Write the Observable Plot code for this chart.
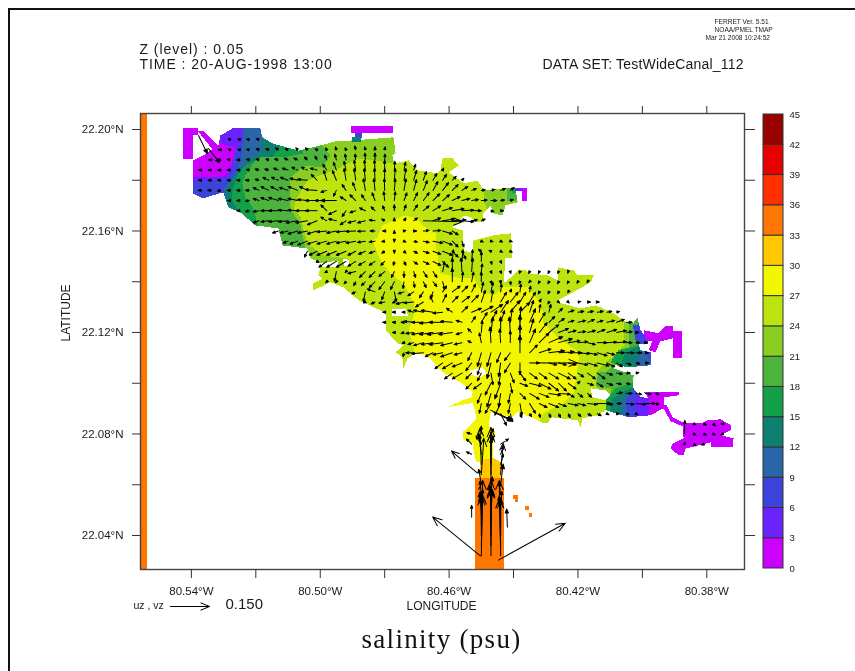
<!DOCTYPE html>
<html><head><meta charset="utf-8">
<style>
html,body{margin:0;padding:0;background:#fff;width:855px;height:671px;overflow:hidden}
#wrap{position:relative;width:855px;height:671px}
#edge{position:absolute;left:8px;top:8px;right:0;bottom:0;border-left:2px solid #111;border-top:2px solid #111}
#wrap svg{position:absolute;left:0;top:0;background:transparent;filter:blur(.4px)}
.hdr text{letter-spacing:.95px}
.hds text{letter-spacing:.2px}
.ttl text{letter-spacing:1.3px}
</style>
<script src="https://cdn.jsdelivr.net/npm/d3@7"></script>
<script src="https://cdn.jsdelivr.net/npm/@observablehq/plot@0.6"></script>
</head><body><div id="wrap"><div id="edge"></div></div>
<script>
// All positions are thousandths of a degree: [west of 80 deg, north of 22 deg]
const salinityBins = d3.range(0,45,3);
const binColors = ["#cc00ff","#6a22ff","#3c44dc","#2866a8","#0e8070","#14a048","#4cb43c","#8acf1f","#bde40f","#f2f600","#ffc800","#ff7700","#ff3000","#e60000","#990000"];
const lonDomain=[555.8,368.3], latDomain=[26.6,206.3];
const lonTicks=[540,520,500,480,460,440,420,400,380];
const latTicks=[200,180,160,140,120,100,80,60,40];
const lonLabelled=[540,500,460,420,380], latLabelled=[200,160,120,80,40];

const outline=[[539.4,187.8],[536.3,189.8],[533.2,192.5],[531.6,193.7],[531,197.6],[527.3,200.4],[518.6,200.4],[518,196.9],[514.8,194.5],[506.8,191.7],[499.9,193.7],[495.3,195.3],[489.7,195.7],[477.3,196.9],[476.6,190.6],[477.6,189.8],[477,186.6],[472.6,187.8],[469.8,183.9],[463.6,182.7],[462.7,183.9],[462,188.6],[458.9,188.6],[457,185.8],[460.2,183.1],[456.5,179.9],[455.5,178.7],[451.2,179.9],[449.3,176],[443.1,176.8],[439.4,176.8],[438.7,171.3],[442.5,170.1],[443.4,166.1],[446.2,166.9],[447.1,170.1],[449.3,167.3],[449.6,163.4],[451.8,163.4],[453.3,165.4],[455.5,166.1],[458.9,161.4],[455.8,160.2],[455.5,152.4],[452.7,151.2],[452.4,156.3],[446.2,158.3],[440.9,159.1],[440.3,149.6],[442.5,149.2],[443.1,139.4],[440.9,141.7],[438.4,144.5],[436.3,144.5],[435.3,143.3],[429.4,142.5],[426.3,140.6],[426.3,145.7],[421.3,144.5],[420.1,142.5],[415.1,142.5],[416,139.8],[419.2,137.4],[426.3,132.7],[426.3,131.9],[419.2,129.5],[414.5,130.7],[408.9,127.6],[405.2,124],[403,123.6],[401.5,125.6],[400.6,120.9],[398.4,117.7],[398.4,115.3],[401.2,115.3],[400.6,113],[397.4,112.2],[397.4,107.1],[404.3,106.3],[408.3,107.1],[408.9,105.9],[402.7,103.1],[403,98.4],[400.6,94.5],[397.4,94.1],[393.4,96.1],[393.4,90.2],[397.4,87.4],[404.3,86.6],[411.4,89.4],[413.6,87.4],[418.6,86.2],[419.2,82.7],[420.1,85.4],[428.5,86.6],[429.1,84.6],[430.7,84.2],[433.8,86.2],[438.7,88.6],[440.3,86.6],[447.1,88.6],[451.2,86.6],[452.7,92.2],[460.5,90.6],[455.8,93.3],[453,94.5],[452.7,96.5],[456,100],[462,104.3],[466.7,111],[470.4,111.8],[472.9,109.8],[474.2,105.9],[474.5,110.2],[476.6,112.2],[474.2,115],[476,115.7],[479.7,120.9],[479.7,128],[481.3,128.7],[488.1,132.7],[492.8,137.8],[496.8,139.8],[502.1,136.6],[502.1,139.4],[499.3,141.3],[500.6,142.5],[499.9,145.7],[494.3,145.7],[494.7,148.4],[499.3,147.2],[503,149.2],[504,153.1],[511.7,154.3],[513,161],[520.1,162.2],[524.8,167.3],[528.5,169.3],[530.1,175.2],[533.5,174],[536.6,172.8],[539.4,174.8]];

const yellowZone=[[482.3,157.5],[480.7,162.2],[473.9,166.1],[470,165],[468.3,162.2],[464.2,159.1],[463.9,152.4],[462.7,143.3],[456.5,141.3],[452.4,141.7],[450.2,136.6],[446.2,134.6],[443.1,137.8],[435.7,137.8],[431.6,131.5],[430.7,123.6],[428.5,120.9],[426.3,118.1],[419.8,112.2],[419.8,108.3],[421.3,96.1],[424.5,92.1],[430.7,88.2],[433.2,81.5],[453.4,81.5],[465.8,93.3],[470.4,111],[472.6,120.9],[470.4,128.7],[471.4,132.7],[474.2,139.4],[478.2,143.3],[481.3,148.4],[483.8,156.3]];
const west21=[[475.1,203.5],[477.6,186.6],[482.9,187.8],[488.4,188.6],[493.7,185],[497.8,183],[504,179.9],[507.1,173.2],[508.3,169.3],[506.1,165.4],[504,155.1],[499.3,150.4],[492.2,149.2],[492.8,146.1],[499.9,146.9],[506.1,144.5],[552.7,144.5],[552.7,203.5]];
const west18=[[552.7,203.5],[499.9,203.5],[499.9,194.5],[496.8,189.8],[499.3,185],[504.6,185.8],[509.3,181.1],[509.3,169.3],[506.1,162.2],[504.6,153.1],[512.4,152.4],[552.7,152.4]];
const west15=[[552.7,203.5],[505.2,203.5],[505.2,190.6],[511.4,189],[518,189.8],[520.7,187],[523.2,181.9],[524.2,178.7],[523.2,173.2],[521,169.3],[519.1,161.8],[552.7,156.3]];
const west12=[[552.7,203.5],[514.8,203.5],[514.8,197.6],[512.4,193.7],[514.8,189],[518.6,189],[523.2,185.8],[525.7,181.9],[527.3,176],[527.3,172],[524.8,166.1],[552.7,160.2]];
const west9=[[552.7,203.5],[518,203.5],[518,191.7],[521.7,188.6],[524.8,183.9],[527,181.1],[529.4,176.8],[529.4,173.2],[528.5,166.1],[552.7,166.1]];
const west6=[[552.7,203.5],[523.9,203.5],[524.2,191.7],[525.4,185.8],[527,181.1],[529.8,176.8],[530.4,173.2],[552.7,168.1]];
const west3=[[552.7,203.5],[523.9,203.5],[524.2,195.7],[526.3,191.7],[527,187.8],[527.3,183.1],[528.5,181.1],[540.3,179.1],[552.7,178]];
const west0=[[552.7,203.5],[531.6,203.5],[531,194.5],[526.3,192.9],[527,187.8],[528.5,183.1],[530.4,181.1],[540.3,181.1],[552.7,181.1]];
const east21=[[406.1,132.7],[405.5,115],[411.1,108.3],[414.5,104.3],[414.5,98.8],[410.8,93.3],[413,83.5],[381.9,83.5],[381.9,132.7]];
const east18=[[404.3,128.7],[404.3,113.8],[408,108.3],[411.1,104.3],[413.6,104.3],[414.5,98.8],[409.9,98],[409.2,93.3],[411.1,85.4],[381.9,85.4],[381.9,128.7]];
const east15=[[400.6,123],[401.2,115],[407.4,113],[409.9,108.3],[400.6,104.3],[400.6,101.2],[408.3,98],[411.4,93.3],[411.4,85.4],[381.9,85.4],[381.9,123]];
const east12=[[399,120.9],[400.6,115],[405.2,112.2],[406.8,107.1],[397.4,105.9],[397.4,101.2],[405.2,97.2],[409.2,94.1],[410.5,85.4],[381.9,85.4],[381.9,120.9]];
const east9=[[397.4,122.8],[400.6,118.9],[400,113],[402.1,109.1],[401.8,105.9],[397.4,105.1],[397.4,101.2],[403,97.2],[406.1,94.1],[406.8,85.4],[381.9,85.4],[381.9,122.8]];
const east6=[[394.3,124.8],[403,122.8],[402.1,116.9],[399,112.2],[395.9,105.1],[395.9,101.2],[402.1,98],[405.2,93.3],[404.6,85.4],[381.9,85.4],[381.9,124.8]];
const east3=[[381.9,124.8],[397.4,124.8],[399,118.9],[394.3,115],[394.3,99.2],[400.6,96.5],[402.7,93.3],[401.8,85.4],[381.9,85.4]];
const east0=[[381.9,99.2],[398,99.2],[398,85.4],[381.9,85.4]];
const finger21=[[449.3,178],[449.3,172],[447.1,165],[439.4,165],[434.7,178]];
const finger18=[[441.9,178],[441.9,172],[436.3,172],[436.3,178]];
const finger15=[[440.6,178],[440.6,174.8],[436.3,174.8],[436.3,178]];
const holes=[[[492.9,149],[491.1,148.6],[491.1,146.3],[492.6,146.3]],[[477.6,129.1],[473.6,129.5],[472.6,126.4],[477.6,126.4]],[[453.4,105.1],[449.6,106.3],[448.4,103.9],[450.2,102.3],[453.4,103.5]],[[416.1,98],[411.4,97.2],[409.9,95.3],[411.4,93.3],[415.5,94.5]]];

// pieces lying outside the masked basin: [bin, polygon]
const outerPieces=[
 [0,[[542.6,200.4],[538.1,200.4],[538.1,198],[539.4,198],[539.4,188.2],[542.6,188.2]]],
 [0,[[538.1,199.6],[536.3,199.6],[530.4,191.7],[533.2,191.7]]],
 [0,[[490.6,201.2],[477.3,201.2],[477.3,198.8],[490.6,198.8]]],
 [2,[[489.1,198.8],[487,198.8],[487,196.5],[489.1,196.5]]],
 [4,[[490,196.9],[487.3,196.9],[487.3,195],[490,195]]],
 [0,[[437.5,177],[435.7,177],[435.7,172],[437.5,172]]],
 [1,[[439.4,177],[437.5,177],[437.5,175.8],[439.4,175.8]]],
 [0,[[390.6,120.5],[387.8,120.5],[387.8,109.9],[390.6,109.9]]],
 [0,[[399.6,120.9],[395,119.7],[392.8,122.4],[390.6,122.4],[390.6,117.7],[394.3,116.5],[399,116.9]]],
 [0,[[396.8,116.9],[394.3,116.9],[395.9,112.2],[398,113]]],
 [0,[[399.6,96.5],[388.7,96.5],[388.7,95.3],[392.8,94.5],[397.4,93.3]]],
 [0,[[394,91.3],[392.5,91.3],[390.6,86.6],[386.9,84.2],[386.9,82.7],[391.2,85]]],
 [0,[[387.5,84.2],[381.9,84.2],[379.7,85.4],[375.7,85.8],[372.6,83.5],[372.6,81.5],[375.7,79.5],[371.7,78.3],[372,74.8],[378.8,74.8],[378.8,76.7],[382.5,75.5],[386.6,74.3],[387.2,71.6],[388.7,71.6],[391.2,74.3],[390.6,76.3],[387.2,78.3]]],
 [9,[[452.4,91.3],[447.1,88.6],[447.7,83.5],[445.6,80.7],[446.5,75.6],[446.5,68.9],[451.5,68.9],[452.1,71.6],[452.7,76.4],[455.5,77.6],[455.8,80.7],[453.3,83.5],[451.5,86.2]]],
 [10,[[450.5,69.7],[446.2,70.5],[444,68.9],[444,62.6],[450.5,62.6]]],
 [11,[[452.1,62.6],[443.1,62.6],[443.1,26.6],[452.1,26.6]]],
 [11,[[555.8,206.3],[553.9,206.3],[553.9,26.6],[555.8,26.6]]],
 [11,[[440.3,55.9],[438.7,55.9],[438.7,53.1],[439.4,53.1],[439.4,54.3],[440.3,54.3]]],
 [11,[[436.3,51.6],[435.3,51.6],[435.3,50],[436.3,50]]],
 [11,[[435.3,48.8],[434.4,48.8],[434.4,47.2],[435.3,47.2]]]
];

// current rows: [lat, first lon, u,v pairs]; columns advance 3 east; 20 units = 0.150 on the key
const currentRows=[
[196,528,[-1,.5,-1,.3,-1.5,.2,-1.5,.5]],
[192,531,[-1,0,-1,.3,-1,.3,-1.5,.3,-1.5,.5,-1.5,.5,-1.5,1,-1.5,.5,-1,1,-1,1,-1,.5,-.5,1,-.5,1.5,-.5,1,-.5,2,-.3,1.5,0,1.5,.3,1.5]],
[188,534,[-1,0,-1.5,0,-1.5,.3,-1.5,0,-1.5,.3,-1.5,.5,-1.5,.5,-2,.5,-2,1,-2,1,-1.5,1.5,-1,2,-1,2.5,-.8,3,-.5,3,-.3,3,-.2,3.5,0,3.5,.2,3]],
[184,537,[-1.2,0,-1.2,0,-1.3,0,-1.5,0,-1.5,0,-1.5,.3,-2,.5,-2,.5,-2.5,1,-3,1,-3,1.5,-3,1.5,-3.5,1,-2,3,-1.5,4,-1,4.5,-.8,5,-.5,5,-.3,5,0,5,.3,4.5,.8,4,1,3]],
[184,462,[.5,1]],
[180,537,[-1.3,0,-1.3,0,-1.5,0,-1.5,0,-1.5,0,-2,0,-2,.5,-3,1.5,-3.5,1.5,-4,1.5,-4,1,-5,.5,-3,3,-1.5,5,-2,5,-1,6,-.8,6,-.6,6,-.3,6,0,6,.5,6,1,6,1.5,5,1.5,4.5,2,3.5,2,3,2,2,1,1]],
[176,537,[-1.5,0,-1.5,0,-1.5,-.3,-1.5,0,-1.5,0,-2,0,-3,1.5,-4,2,-4,2,-4.5,1.5,-5,2,-4,2,-6,.5,-3,-1,-1.5,-3,-2,3,-1.5,4,-1,6,-.6,6,-.2,6,.5,6,1,6,1.5,5.5,2,5,2.5,4.5,3,4,3,3,3,2,2.5,1,2,.3,2,.5,2.5,1,2,1.5]],
[172,528,[-1.2,0,-1.5,0,-2,-.3,-3,1,-4,1.5,-5,1.5,-5,1,-5,1,-5,.5,-6,0,-6,0,-8,0,-3,2,-3,3,-2,3,-1.5,4,-.5,4.5,.5,4.5,1.5,4,2,4,3,4,3.5,3.5,3.5,3,4,2,4,1,3.5,.5,3,.3,3,0,2,.3,1.5,.5]],
[168,525,[-1.5,0,-2,-.5,-3,-.5,-4,0,-5,0,-5,.3,-5,.3,-6,0,-6,0,-3,3,-4,-2,-2,-3,-3,-1,-3,1.5,-2,2,-1,2.5,0,3,1,3,2,3,3,2.5,4,2.5,5,1.5,6,1,6,.3,5,0]],
[168,447,[1.5,-.5,1.5,0]],
[164,519,[-3,-1,-4,-.5,-5,-.5,-5,-.5,-6,-1,-6,-1,-5,-2,-3,2,-4,1,-3,-2,-4,-1,-4,-1,-3,.5,-1.5,1,0,1.5,1,1.5,2,1.5,20,-.5,4,1.5,6,1,7,.5,6,-.5,3,.5,2,1]],
[160,513,[-3,-1,-4,-1,-5,-1.5,-5,-1,-5,-1.5,-5,-.5,-5,-1,-5,-.5,-5,-.3,-4,-.2,-2.5,0,-1,0,0,.3,1,.3,1.5,0,3,.3,4,.3,5,-1.5,3,-2]],
[156,510,[-2.5,-1,-4,-1.5,-5,-2,-5,-1.5,-5,-1.5,-5,-1.5,-5,-1,-5,-1,-4,-.7,-3,-.5,-1.5,-.3,0,-.5,1,-.5,2,-.5,3,-.7,5,-1,5,-2,3,-3,1,-3]],
[156,450,[1,-.5,1,-.3,1,-.5,1,-.3]],
[152,504,[-1.5,-3,-4,-2,-5,-2,-5,-2,-5,-2,-4,-2,-3.5,-1.5,-3,-1,-1.5,-1,0,-1,1,-1,2,-1,3,-1,4,-1.5,5,-2,3,-3,2,-4]],
[152,450,[-1.5,1,-1,.5,1,-.5,1,-.5]],
[148,501,[1,-.5,-4,-3,-5,-3,-5,-3,-4,-2.5,-3.5,-2,-3,-2,-2,-2,-.5,-2,1,-2,2,-1.5,3,-1.5,4,-2,3,-3,.5,6,.5,6,.5,6,0,5,.5,-1.5,.5,-1]],
[144,498,[-1,-.5,-1,-5,-.5,-.5,-4,-1,-3,-3,-3,-3,-3,-2.5,-1.5,-3,0,-3,1,-3,2,-3,2,-3,1,5,0,7,-.5,7,.5,7,.5,4,.5,-1,.5,-1,.3,-1,-.3,-1,-.5,-1,-.5,-1,-.5,-1,-.5,-1,-.3,-.8]],
[140,498,[-.5,-.5,-.5,-.5,-1,-1,-1,-2,-2,-2,-3,-3,-3,-4,-2,-4,-.5,-3.5,.5,-3,1.5,-3,2,-2.5,1,-4,0,7,.5,5,1,5,0,5,.5,-1,0,-1,.3,-1.5,-.5,-1,-.5,-.5,-.5,-1,-.5,-1,-.5,-1,-.5,-1,-.5,-.8,-.3,-.5]],
[136,489,[-2,-1,-1,-5,-4,1.5,-1.5,-4,1,-5,-3,-1,-3,-2,-2,-3,-1,-3,2,3,4,3,3,3,2,4,1,5,1,5,.5,4,.5,1.5,.5,4,.5,3,-.5,-1,-.5,-1,-.5,-1,-.3,-.5]],
[132,486,[-1,-.5,-2,-1,-3,-.5,-1,-.5,-4,-1,-5,-.5,-4,-2.5,-1.5,3,2,4,3,3,4,3,3.5,3.5,2,6,1,6,3,5,4,5,3,5,3,5,1,1.5,-.5,-1,.5,-.5,.5,-.5,1.5,.3,1.5,0,1,0]],
[128,480,[-1,0,-1,0,-1,0,-3,1,-5,1,-6,1,-5,-.5,-3,2,3,3,5,2,6,3,6,4,4,6,5,6,5,5,2,6,.5,4,1,4,2,2,3,1,3,.5,3,.5,3,.5,2.5,.5,1.5,.3]],
[124,480,[-1,0,-1,0,-1.5,0,-5,.5,-6,0,-7,-.5,-7,0,-6,.5,-3,1,2,3,3,5,3,6,2,6,1,7,.5,8,3,7,3,5,3,3,3,2,3,1,4,1,3.5,1.5,3,1,4,1,4,1.5,3,0]],
[120,477,[-1,0,-1.5,-.5,-4,-.5,-6,-1,-7,-1,-8,-1,-7,-1,-3,-1,-2,2,.5,6,1,8,0,8,-.5,8,0,9,2,7,4,5,5,4,5,2,4,1,4,.5,4,1,4,1.5,5,1.5,5,1,3,.5,1.5,0]],
[116,474,[-1,-.3,-3,-1,-5,-1.5,-6,-1,-7,-1,-6,-1.5,-4,-1,-2,1,-1,5,-.5,8,-.5,7,0,6,0,9,3,7,5,5,7,3,7,2,6,1,5,.5,4,-1,5,0,5,.3,5,.5,3,0,2,0,1,0]],
[112,474,[-.5,-2,-4,0,-6,-.5,-4,-2,-5,-1,-6,-2,-4,-1,-2,-4,-2,-7,-2,-7,-2,-5,-3,-4,0,9,4,4,6,2,8,1,8,.5,7,0,6,-.5,5,-1,5,-1.5,4,-1,4,0,4,0,3,0,1.5,0]],
[108,462,[-4,-3,-5,-3,-5,-2,-3,-4,-2,-6,-2,-8,-1,-7,-3,-5,0,-6,5,0,19.5,0,4,-1,4,-1,4,-1,5,-1,5,-1.5,6,-1.5,4,-2,3,-2,2.5,-1,2,-.5,1.5,0]],
[104,459,[-4,-3,-5,-3,-3,-3,-2,-4,1,-6,-1,-6,2,-5,3,-4,4,-3,4,-3,5,-3,6,-3,4,-3,3,-2,4,-3,4,-3,3,-1,3,-.5,2,0,1.5,.3]],
[100,453,[-3,-3,-4,-3,-3,-6,-3,-8,1,-5,4,-1.5,6,-1.5,6,-3,5,-4,4,-4,4,-3,1,1,3,-1,3,-2,3,-1,2.5,-.5,2,-.5]],
[96,450,[-2,-5,-2,-7,-1,-7,-1,-5,3,-3,5,-3,5,-2,6,-1,6,-.5,3,-2,2.5,-2,2,-2]],
[96,408,[3,.5,3,0,3,-.5,3,-.5,2,-.5]],
[92,450,[-1,-5,-3,-5,-3,-6,-1,-5,1,-6,3,-5,4,-2,5,-2,4,-1.5,5,-1,4,-1,5,-.5,7,0,3,-.5,2.5,0,4,-.5,5,-.5,5,0,2,-.5]],
[88,444,[3,-6,1,-4,1,-2,1,-1.5,.5,-2,1,-2,1,-2,1,-2,1.5,-1.5,2,-1,2,-1,1,-.5,1.5,0,1.5,-.5,1,-.5]],
[84,384,[1,-.5,1.5,-.5,1,-1,-1,0]],
[80,387,[.3,7,1,-.5,1.5,-.5,1,-.5,-1,-.5]],
[76,387,[.5,1,1,-1,-1,-.5]],
[80,453,[-2.5,.7,0,4,1.3,2.7]],
[76,453,[-2.7,2.7,-2.7,4,1.3,4,4,2.7]],
[72,453,[-2.7,1.3,-1.3,10.6,0,8,1.3,4]],
[68,450,[-.7,18.6,0,16,1.3,5.3]],
[64,450,[1.3,18.6,0,24,1.3,16]],
[60,450,[-1.3,8,0,26.6,1.3,10.6]],
[56,450,[-.7,7,.7,9.3,-.7,6]],
[52,450,[.7,8,-.7,10,.7,7]],
[48,450,[-.7,12,.7,13,-.7,10]],
[44,450,[0,16,0,18,0,14]],
[40,450,[0,20,0,24,0,18]],
[36,450,[.7,26,0,30,-.7,24]],
[32,450,[.7,38.6,0,38.6,-.7,38.6]]
];
// individually read arrows: [lon, lat, u, v]
const singleArrows=[[537.8,197.6,4.6,-9.3],[534.7,192.5,5.6,-7.2],[450.2,31.9,-24.6,20],[444.7,30.3,34.3,18.9],[451.2,64.6,-13.3,11.3],[453,47.2,0,6.1],[441.9,43.3,-.4,9.3],[447.1,89.4,11.3,-5.3],[446.2,88.6,10,-4.7]];
const keyArrow=[20];

const arrowData=[...currentRows.flatMap(([lat,lon0,f])=>d3.range(0,f.length,2).map(k=>({lon:lon0-3*k/2,lat,u:f[k],v:f[k+1]}))),
 ...singleArrows.map(([lon,lat,u,v])=>({lon,lat,u,v}))];

// small heads are solid blobs, long arrows have an open V
const ferretArrow={draw(ctx,l){const h=Math.min(9,Math.max(2.6,l*.22)),w=h*.42;
 ctx.moveTo(0,0);ctx.lineTo(0,-l);
 if(l<26){ctx.moveTo(-w,-l+h);ctx.lineTo(0,-l);ctx.lineTo(w,-l+h);ctx.closePath();}
 else{ctx.moveTo(-w,-l+h);ctx.lineTo(0,-l);ctx.moveTo(w,-l+h);ctx.lineTo(0,-l);}}};

const poly=(pts,bin,col)=>Plot.line(pts,{x:d=>d[0],y:d=>d[1],fill:col||binColors[bin],stroke:"none",curve:"linear",shapeRendering:"crispEdges"});
const frameRing=[[lonDomain[0],latDomain[1]],[lonDomain[0],latDomain[0]],[lonDomain[1],latDomain[0]],[lonDomain[1],latDomain[1]],[lonDomain[0],latDomain[1]]];
const mask=[...frameRing,outline[0],...outline,outline[0],frameRing[0]];

const paint=[[outline,8],[yellowZone,9],[west21,7],[west18,6],[west15,5],[west12,4],[west9,3],[west6,2],[west3,1],[west0,0],
 [east21,7],[east18,6],[east15,5],[east12,4],[east9,3],[east6,2],[east3,1],[east0,0],[finger21,7],[finger18,6],[finger15,5]];

const fmtLon=d=>lonLabelled.includes(d)?`80.${String(d).slice(0,2)}°W`:"";
const fmtLat=d=>latLabelled.includes(d)?`22.${String(d).padStart(3,"0").slice(0,2)}°N`:"";
const txt=(s,anchor,dx,dy,size,opt={})=>Plot.text([s],{text:d=>d,frameAnchor:anchor,dx,dy,fontSize:size,fill:"#1a1a1a",fontFamily:"Liberation Sans",...opt});

const map=Plot.plot({width:855,height:671,marginLeft:140,marginRight:111,marginTop:113,marginBottom:102,
 x:{domain:lonDomain,label:null},y:{domain:latDomain,label:null},
 length:{type:"linear",domain:[0,20],range:[0,39]},
 style:{fontFamily:"Liberation Sans",fontSize:"11.5px",color:"#1a1a1a",background:"transparent"},
 marks:[
  ...paint.map(([p,b])=>poly(p,b)),
  poly(mask,0,"#fff"),
  ...holes.map(h=>poly(h,0,"#fff")),
  ...outerPieces.map(([b,p])=>poly(p,b)),
  Plot.vector(arrowData,{x:"lon",y:"lat",rotate:d=>Math.atan2(d.u,d.v)*180/Math.PI,length:d=>Math.hypot(d.u,d.v),anchor:"start",stroke:"#000",fill:"#000",strokeWidth:1,shape:ferretArrow}),
  Plot.frame({stroke:"#444",strokeWidth:1.4}),
  Plot.axisX({anchor:"bottom",ticks:lonTicks,tickSize:9,tickPadding:8,tickFormat:fmtLon,label:null,stroke:"#333"}),
  Plot.axisX({anchor:"top",ticks:lonTicks,tickSize:8,tickFormat:()=>"",label:null,stroke:"#333"}),
  Plot.axisY({anchor:"left",ticks:latTicks,tickSize:8,tickPadding:9,tickFormat:fmtLat,label:null,stroke:"#333"}),
  Plot.axisY({anchor:"right",ticks:latTicks,tickSize:10,tickFormat:()=>"",label:null,stroke:"#333"}),
  Plot.vector(keyArrow,{frameAnchor:"bottom-left",dx:30,dy:37,rotate:90,length:d=>d,anchor:"start",stroke:"#000",fill:"#000",strokeWidth:1,shape:ferretArrow}),
  txt("Z (level) : 0.05","top-left",-1,-64,14,{textAnchor:"start",className:"hdr",dy:-69}),
  txt("TIME : 20-AUG-1998 13:00","top-left",-1,-49,14,{textAnchor:"start",className:"hdr",dy:-54}),
  txt("DATA SET: TestWideCanal_112","top-left",402,-54,14,{textAnchor:"start",className:"hds"}),
  txt("FERRET Ver. 5.51","top-left",574,-94,6.6,{textAnchor:"start"}),
  txt("NOAA/PMEL TMAP","top-left",574,-86,6.6,{textAnchor:"start"}),
  txt("Mar 21 2008 10:24:52","top-left",565,-78,6.6,{textAnchor:"start"}),
  txt("LONGITUDE","bottom-left",301,40,12,{textAnchor:"middle"}),
  Plot.text(["LATITUDE"],{text:d=>d,frameAnchor:"left",dx:-74,dy:0,rotate:-90,fontSize:12,fill:"#1a1a1a",fontFamily:"Liberation Sans"}),
  txt("uz , vz","bottom-left",-7,39,10.5,{textAnchor:"start"}),
  txt("0.150","bottom-left",85,39,15,{textAnchor:"start"}),
  Plot.text(["salinity (psu)"],{text:d=>d,frameAnchor:"bottom-left",dx:301,dy:78,fontSize:27,textAnchor:"middle",fontFamily:"Liberation Serif",fill:"#111",className:"ttl"})
 ]});

const legend=Plot.plot({width:855,height:671,marginLeft:763,marginRight:72,marginTop:114,marginBottom:103,
 x:{domain:[0,1],axis:null},y:{domain:[0,45],label:null},
 style:{fontFamily:"Liberation Sans",fontSize:"9.5px",color:"#1a1a1a",background:"transparent"},
 marks:[
  Plot.rect(salinityBins,{x1:0,x2:1,y1:d=>d,y2:d=>d+3,fill:d=>binColors[d/3],stroke:"#333",strokeWidth:1}),
  Plot.axisY({anchor:"right",ticks:d3.range(0,46,3),tickSize:0,tickPadding:6,tickFormat:d=>d,label:null})
 ]});
document.getElementById("wrap").append(map,legend);
</script></body></html>
